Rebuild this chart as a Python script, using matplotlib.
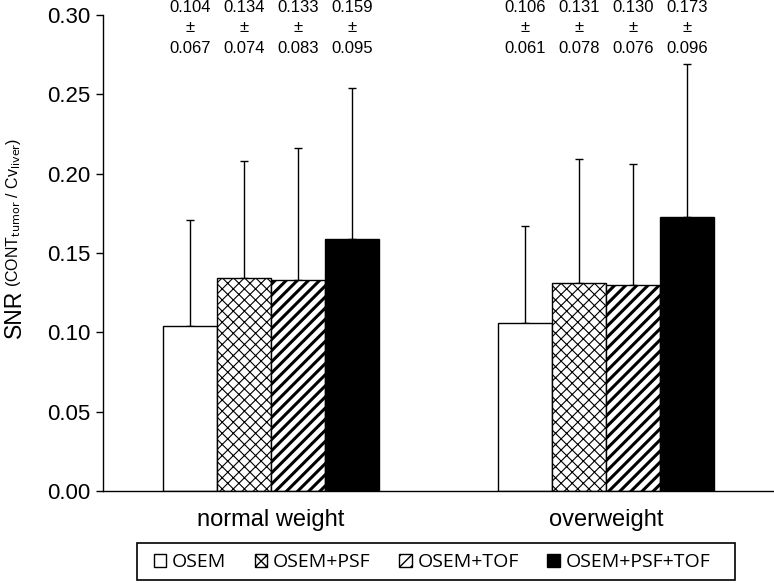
import matplotlib

matplotlib.use("Agg")
import matplotlib.pyplot as plt  # noqa: E402
import numpy as np  # noqa: E402
from matplotlib.patches import Patch, Rectangle  # noqa: E402
from matplotlib.transforms import blended_transform_factory  # noqa: E402

groups = ["normal weight", "overweight"]
methods = ["OSEM", "OSEM+PSF", "OSEM+TOF", "OSEM+PSF+TOF"]
means = {
    "normal weight": [0.104, 0.134, 0.133, 0.159],
    "overweight": [0.106, 0.131, 0.130, 0.173],
}
sds = {
    "normal weight": [0.067, 0.074, 0.083, 0.095],
    "overweight": [0.061, 0.078, 0.076, 0.096],
}
yticks = [0.00, 0.05, 0.10, 0.15, 0.20, 0.25, 0.30]

plt.rcParams["font.family"] = ["Liberation Sans", "DejaVu Sans"]

faces = ["white", "white", "white", "black"]
hatches = [None, "xxx", "///", None]
hatch_lw = [1.0, 0.8, 2.2, 1.0]

W, H, DPI = 774, 583, 100
fig = plt.figure(figsize=(W / DPI, H / DPI), dpi=DPI)
ax = fig.add_axes([103 / W, 1 - 491 / H, (W - 103) / W, 476 / H])

x = np.arange(len(groups))
width = 0.161
offsets = (np.arange(len(methods)) - 1.5) * width

handles = []
for i, m in enumerate(methods):
    vals = [means[g][i] for g in groups]
    errs = [sds[g][i] for g in groups]
    with plt.rc_context({"hatch.linewidth": hatch_lw[i]}):
        ax.bar(x + offsets[i], vals, width, color=faces[i], edgecolor="black",
               linewidth=1.0, hatch=hatches[i], zorder=2)
        handles.append(Patch(facecolor=faces[i], edgecolor="black", hatch=hatches[i],
                             linewidth=1.0, label=m))
    ax.errorbar(x + offsets[i], vals, yerr=[np.zeros(len(vals)), errs], fmt="none",
                ecolor="black", elinewidth=1.0, capsize=3, capthick=1.0, zorder=1)

# mean ± sd labels above the plot
trans = blended_transform_factory(ax.transData, fig.transFigure)
for gi, g in enumerate(groups):
    for i in range(len(methods)):
        ax.text(x[gi] + offsets[i], 1 - 0 / H, f"{means[g][i]:.3f}\n±\n{sds[g][i]:.3f}",
                transform=trans, ha="center", va="top", fontsize=12, linespacing=1.45)

ax.set_xlim(-0.5, 1.5)
ax.set_ylim(0, 0.30)
ax.set_yticks(yticks)
ax.set_yticklabels([f"{t:.2f}" for t in yticks], fontsize=16)
ax.set_xticks(x)
ax.set_xticklabels(groups, fontsize=17)
ax.tick_params(axis="x", length=0, pad=13)
ax.tick_params(axis="y", length=5, width=1, direction="out", pad=4)
ax.spines["top"].set_visible(False)
ax.spines["right"].set_visible(False)
ax.spines["left"].set_linewidth(1)
ax.spines["bottom"].set_linewidth(1)

# y label: big "SNR" plus smaller bracketed part
fig.text(14 / W, 1 - 338 / H, "SNR", rotation=90, ha="center", va="bottom", fontsize=16.5)
fig.text(14 / W, 1 - 287 / H, r"(CONT$_{\mathrm{tumor}}$ / Cv$_{\mathrm{liver}}$)",
         rotation=90, ha="center", va="bottom", fontsize=11.5)

fig.legend(handles=handles, loc="center", bbox_to_anchor=(432 / W, 1 - 562 / H),
           ncol=4, prop={"family": "Open Sans", "size": 14}, frameon=False,
           handlelength=0.65, handleheight=0.65, handletextpad=0.3,
           columnspacing=1.45, borderpad=0.3)
fig.patches.append(Rectangle((137 / W, 1 - 580 / H), 598 / W, 37 / H, fill=False,
                             edgecolor="black", linewidth=1.2,
                             transform=fig.transFigure, figure=fig))

fig.savefig("out.png", dpi=DPI)
